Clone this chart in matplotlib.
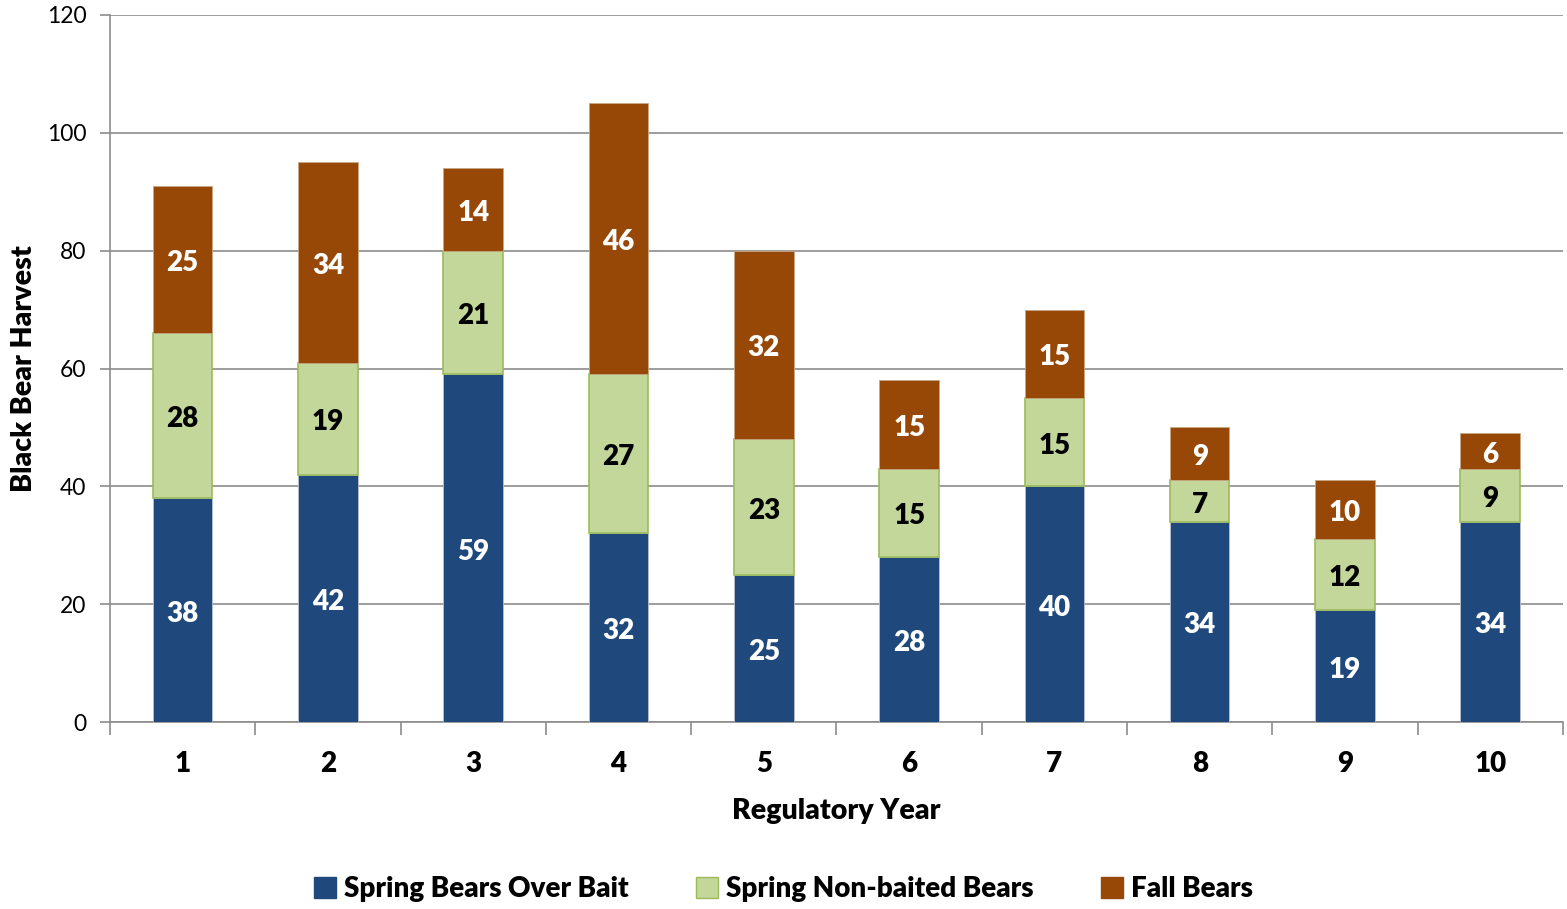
import matplotlib
matplotlib.use('Agg')
import matplotlib.pyplot as plt
import numpy as np
from matplotlib.patches import Patch

plt.rcParams.update({
    'font.family': ['Lato', 'DejaVu Sans'],
    'font.size': 15,
})

# ─── Data ────────────────────────────────────────────────────
years = ['1', '2', '3', '4', '5', '6', '7', '8', '9', '10']
spring_bait = [38, 42, 59, 32, 25, 28, 40, 34, 19, 34]
spring_nonbait = [28, 19, 21, 27, 23, 15, 15, 7, 12, 9]
fall = [25, 34, 14, 46, 32, 15, 15, 9, 10, 6]

BLUE = '#1F497D'
GREEN = '#C4D79B'
GREEN_EDGE = '#9BBB59'
BROWN = '#974706'
GRID = '#8c8c8c'
LBL = dict(fontsize=20, fontweight='heavy', ha='center', va='center', zorder=4)

fig = plt.figure(figsize=(15.67, 9.09), dpi=100)
ax = fig.add_axes([0.0702, 0.2057, 0.9272, 0.7778])

x = np.arange(len(years))
w = 0.41
b1 = np.array(spring_bait)
b2 = b1 + np.array(spring_nonbait)

ax.bar(x, spring_bait, w, color=BLUE, edgecolor='#b8c0cc', linewidth=0.6, zorder=3)
ax.bar(x, spring_nonbait, w, bottom=b1, color=GREEN, edgecolor=GREEN_EDGE,
       linewidth=1.2, zorder=3)
ax.bar(x, fall, w, bottom=b2, color=BROWN, edgecolor='#c8a888', linewidth=0.6, zorder=3)

off = -0.6  # small downward nudge of the labels
for i in range(len(years)):
    ax.text(x[i], spring_bait[i] / 2 + off, str(spring_bait[i]), color='white', **LBL)
    ax.text(x[i], b1[i] + spring_nonbait[i] / 2 + off, str(spring_nonbait[i]),
            color='black', **LBL)
    ax.text(x[i], b2[i] + fall[i] / 2 + off, str(fall[i]), color='white', **LBL)

ax.set_xlim(-0.5, len(years) - 0.5)
ax.set_ylim(0, 120)
ax.set_yticks(range(0, 121, 20))
ax.yaxis.grid(True, color=GRID, linewidth=1.2, zorder=0)
ax.tick_params(axis='y', length=7, width=1.2, color=GRID, labelsize=16.5, pad=10)

ax.set_xticks(x)
ax.set_xticklabels(years, fontsize=20, fontweight='heavy')
ax.tick_params(axis='x', length=0, pad=21)
ax.set_xticks(np.arange(-0.5, len(years)), minor=True)
ax.tick_params(axis='x', which='minor', length=9, width=1.2, color=GRID)

for s in ['top', 'right']:
    ax.spines[s].set_visible(False)
for s in ['left', 'bottom']:
    ax.spines[s].set_color(GRID)
    ax.spines[s].set_linewidth(1.2)

ax.set_xlabel('Regulatory Year', fontsize=20.5, fontweight='heavy', labelpad=15)
ax.set_ylabel('Black Bear Harvest', fontsize=20.5, fontweight='heavy', labelpad=7)

handles = [
    Patch(facecolor=BLUE, edgecolor=BLUE, label='Spring Bears Over Bait'),
    Patch(facecolor=GREEN, edgecolor=GREEN_EDGE, label='Spring Non-baited Bears'),
    Patch(facecolor=BROWN, edgecolor=BROWN, label='Fall Bears'),
]
fig.legend(handles=handles, loc='center', bbox_to_anchor=(0.5, 0.022), ncol=3,
           frameon=False, prop={'size': 20, 'weight': 'heavy'},
           handlelength=0.8, handleheight=0.8, handletextpad=0.3, columnspacing=2.4)

fig.savefig('out.png', dpi=100)
